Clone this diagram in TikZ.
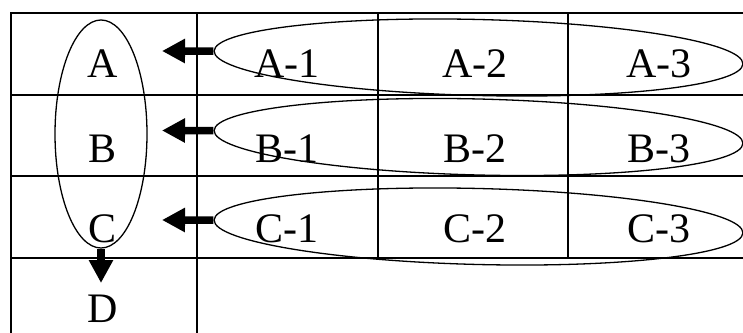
\documentclass[tikz,border=0pt]{standalone}
\usepackage{fontspec}
\setmainfont{Liberation Serif}
\usetikzlibrary{shapes.geometric,arrows.meta}

\begin{document}
\begin{tikzpicture}[
    x=1pt, y=1pt,
    grid/.style={line width=2pt, line cap=rect},
    rowloop/.style={ellipse, draw, line width=1.3pt, minimum width=529pt, minimum height=76pt, inner sep=0pt, rotate=-1.4},
    colloop/.style={ellipse, draw, line width=1.3pt, minimum width=92pt, minimum height=228pt, inner sep=0pt},
    cell/.style={anchor=base, inner sep=0pt, font=\fontsize{42}{48}\selectfont},
    fatarrow/.style={-{Triangle[length=23pt, width=23pt]}, line width=7.5pt},
]
\useasboundingbox (0,0) rectangle (743,332);
\clip (0,0) rectangle (743,332);

% ================== Table grid ==================
\foreach \y in {319,237,156,74} \draw[grid] (11,\y) -- (750,\y);
\foreach \x in {11,197} \draw[grid] (\x,319) -- (\x,-5);
\foreach \x in {378,568} \draw[grid] (\x,319) -- (\x,74);

% ================== Loops ==================
\node[colloop] (colLoop) at (101,198) {};
\node[rowloop] (rowA) at (478.5,274.5) {};
\node[rowloop] (rowB) at (478.5,195) {};
\node[rowloop] (rowC) at (478.5,105.5) {};

% ================== Labels ==================
\node[cell] (A) at (103,254) {A};
\node[cell] (B) at (103,169) {B};
\node[cell] (C) at (103,90) {C};
\node[cell] (D) at (103,10) {D};

\foreach \r/\y in {A/254,B/169,C/90} {
    \node[cell] (\r1) at (287,\y) {\r-1};
    \node[cell] (\r2) at (475,\y) {\r-2};
    \node[cell] (\r3) at (659,\y) {\r-3};
}

% ================== Arrows ==================
\coordinate (tipA) at (162,281);
\coordinate (tipB) at (162,201.5);
\coordinate (tipC) at (162,112);
\coordinate (tipD) at (101,49);

\draw[fatarrow] (rowA.west) -- (tipA);
\draw[fatarrow] (rowB.west) -- (tipB);
\draw[fatarrow] (rowC.west) -- (tipC);
\draw[fatarrow] (colLoop.south) -- (tipD);

\end{tikzpicture}
\end{document}
